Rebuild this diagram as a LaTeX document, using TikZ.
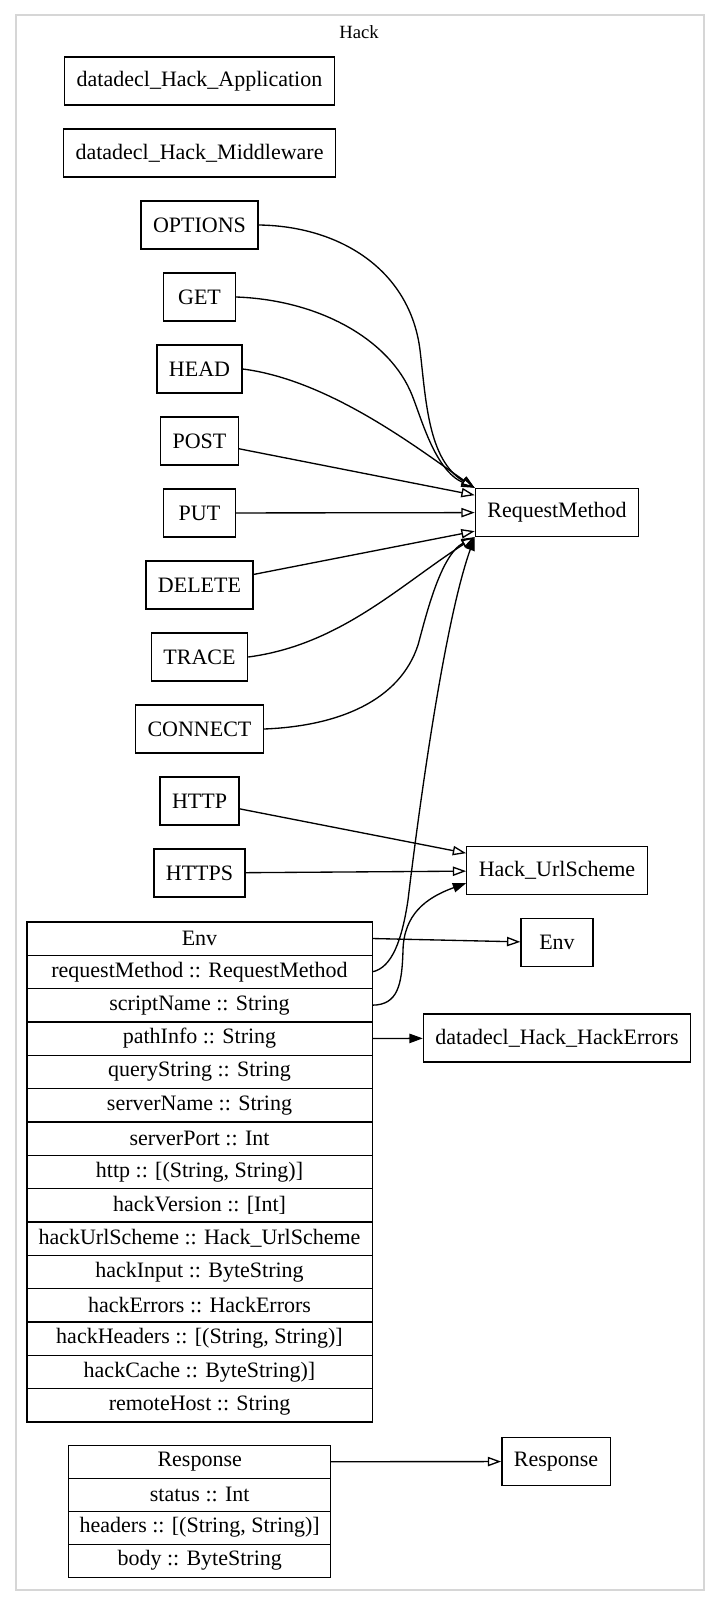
\documentclass[tikz,border=0pt]{standalone}
\usepackage{fontspec}
\setmainfont{Liberation Serif}
\usepackage{tikz}
\usetikzlibrary{positioning,arrows.meta}
\definecolor{ClusterGray}{RGB}{214,214,214}
\newcommand{\gvfont}{\fontsize{16.5pt}{19pt}\selectfont}
\tikzset{
    gvbox/.style={draw, line width=1pt, font=\gvfont, minimum width=54pt,
                  minimum height=36pt, inner xsep=9pt},
    envfield/.style={draw, line width=1pt, font=\gvfont, minimum width=259pt,
                     minimum height=25pt, inner sep=0pt, outer sep=0pt},
    respfield/.style={envfield, minimum width=196.5pt, minimum height=24.75pt},
    isa/.style={line width=1pt, -{Triangle[open, length=10pt, width=7pt]}},
    fieldref/.style={line width=1pt, -{Triangle[length=10pt, width=7pt]}},
}

\begin{document}
\begin{tikzpicture}[x=0.75pt, y=-0.75pt, node distance=17pt]
    \path[use as bounding box, fill=white] (0,0) rectangle (720,1607);
    \draw[ClusterGray, line width=1pt] (16,15) rectangle (704,1590);
    \node[font=\fontsize{14pt}{16pt}\selectfont] (lblHack) at (359,32) {Hack};

    \node[gvbox] (nApp) at (199.5,81) {datadecl\_Hack\_Application};
    \node[gvbox, below=of nApp] (nMid) {datadecl\_Hack\_Middleware};
    \node[gvbox, below=of nMid] (nOptions) {OPTIONS};
    \node[gvbox, below=of nOptions] (nGet) {GET};
    \node[gvbox, below=of nGet] (nHead) {HEAD};
    \node[gvbox, below=of nHead] (nPost) {POST};
    \node[gvbox, below=of nPost] (nPut) {PUT};
    \node[gvbox, below=of nPut] (nDelete) {DELETE};
    \node[gvbox, below=of nDelete] (nTrace) {TRACE};
    \node[gvbox, below=of nTrace] (nConnect) {CONNECT};
    \node[gvbox, below=of nConnect] (nHttp) {HTTP};
    \node[gvbox, below=of nHttp] (nHttps) {HTTPS};

    \node[gvbox] (nReqMethod) at (557,512.5) {RequestMethod};
    \node[gvbox] (nUrlScheme) at (557,870.5) {Hack\_UrlScheme};
    \node[gvbox] (nEnvT) at (557,942.7) {Env};
    \node[gvbox] (nErrors) at (557,1038) {datadecl\_Hack\_HackErrors};
    \node[gvbox] (nRespT) at (556,1461.5) {Response};

    \node[envfield] (envHead) at (199.5,938.5) {Env};
    \foreach \nm/\txt [remember=\nm as \prev (initially envHead)] in {
        envReq/{requestMethod :: RequestMethod},
        envScript/{scriptName :: String},
        envPath/{pathInfo :: String},
        envQuery/{queryString :: String},
        envServer/{serverName :: String},
        envPort/{serverPort :: Int},
        envHttp/{http :: [(String, String)]},
        envVersion/{hackVersion :: [Int]},
        envUrl/{hackUrlScheme :: Hack\_UrlScheme},
        envInput/{hackInput :: ByteString},
        envErrors/{hackErrors :: HackErrors},
        envHeaders/{hackHeaders :: [(String, String)]},
        envCache/{hackCache :: ByteString)]},
        envRemote/{remoteHost :: String}}
        \node[envfield, below=0pt of \prev] (\nm) {\txt};

    \node[respfield] (respHead) at (199.7,1461.7) {Response};
    \foreach \nm/\txt [remember=\nm as \prev (initially respHead)] in {
        respStatus/{status :: Int},
        respHeaders/{headers :: [(String, String)]},
        respBody/{body :: ByteString}}
        \node[respfield, below=0pt of \prev] (\nm) {\txt};

    \draw[isa] (nOptions.east) .. controls (340,226) and (410,270) .. (420,350)
        .. controls (426,400) and (428,460) .. (nReqMethod.north west);
    \draw[isa] (nGet.east) .. controls (320,300) and (390,340) .. (412,395)
        .. controls (422,420) and (435,470) .. (nReqMethod.north west);
    \draw[isa] (nHead.east) .. controls (330,380) and (420,450) .. (nReqMethod.north west);
    \draw[isa] (nPost) -- ([yshift=13pt]nReqMethod.west);
    \draw[isa] (nPut) -- (nReqMethod);
    \draw[isa] (nDelete) -- ([yshift=-14pt]nReqMethod.west);
    \draw[isa] (nTrace.east) .. controls (340,645) and (400,585) .. (nReqMethod.south west);
    \draw[isa] (nConnect.east) .. controls (340,726) and (400,700) .. (418,645)
        .. controls (425,620) and (440,555) .. (nReqMethod.south west);
    \draw[isa] (nHttp) -- ([yshift=13pt]nUrlScheme.west);
    \draw[isa] (nHttps) -- (nUrlScheme);
    \draw[isa] (envHead.east) -- (nEnvT);
    \draw[fieldref] (envReq.east) .. controls (392,968) and (402,940) .. (408,900)
        .. controls (420,800) and (445,620) .. (nReqMethod.south west);
    \draw[fieldref] (envScript.east) .. controls (398,1005) and (402,985) .. (403,950)
        .. controls (404,915) and (425,898) .. ([yshift=-9.5pt]nUrlScheme.west);
    \draw[fieldref] (envPath.east) -- (nErrors);
    \draw[isa] (respHead.east) -- (nRespT);
\end{tikzpicture}
\end{document}
